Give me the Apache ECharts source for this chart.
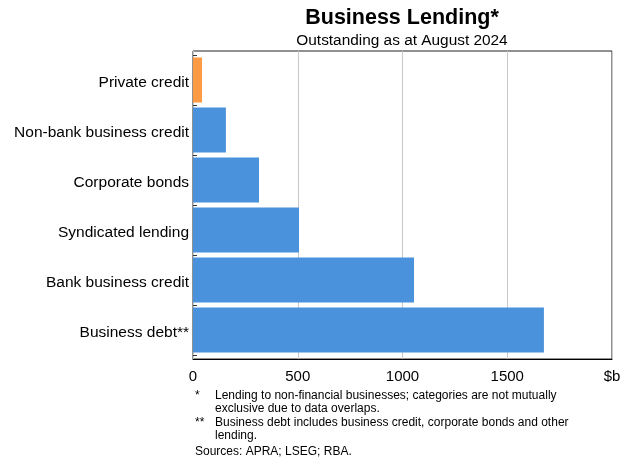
<!DOCTYPE html>
<html>
<head>
<meta charset="utf-8">
<script src="https://cdn.jsdelivr.net/npm/echarts@6/dist/echarts.min.js"></script>
<style>html,body{margin:0;padding:0;background:#fff;}#c{width:630px;height:457px;}</style>
</head>
<body>
<div id="c"></div>
<script>
const categories = ["Private credit", "Non-bank business credit", "Corporate bonds", "Syndicated lending", "Bank business credit", "Business debt**"];
const values = [43, 157, 315, 506, 1055, 1675];
const highlightCategory = "Private credit";
const xTicks = [0, 500, 1000, 1500, 2000];
const xUnitLabel = "$b";
const footnotes = [
  ["*", "Lending to non-financial businesses; categories are not mutually"],
  ["", "exclusive due to data overlaps."],
  ["**", "Business debt includes business credit, corporate bonds and other"],
  ["", "lending."]
];
const sources = "Sources: APRA; LSEG; RBA.";

const FONT = "Liberation Sans, Arial, sans-serif";
const chart = echarts.init(document.getElementById('c'), null, {renderer: 'canvas'});

const graphics = [
  {type: 'text', x: 402, y: 18.5, style: {text: 'Business Lending*', font: 'bold 21.5px ' + FONT, fill: '#000', textAlign: 'center', textVerticalAlign: 'middle'}},
  {type: 'text', x: 402, y: 41, style: {text: 'Outstanding as at August 2024', font: '15.4px ' + FONT, fill: '#000', textAlign: 'center', textVerticalAlign: 'middle'}}
];
const lineYs = [395.5, 408.5, 422.5, 435.5];
footnotes.forEach((f, i) => {
  if (f[0]) graphics.push({type: 'text', x: 195, y: lineYs[i], style: {text: f[0], font: '12px ' + FONT, fill: '#000', textVerticalAlign: 'middle'}});
  graphics.push({type: 'text', x: 215, y: lineYs[i], style: {text: f[1], font: '12px ' + FONT, fill: '#000', textVerticalAlign: 'middle'}});
});
graphics.push({type: 'text', x: 195, y: 451.5, style: {text: sources, font: '12px ' + FONT, fill: '#000', textVerticalAlign: 'middle'}});

chart.setOption({
  animation: false,
  grid: [
    {left: 193, right: 18, top: 51, bottom: 98, show: true, borderColor: '#222', borderWidth: 1, backgroundColor: 'transparent'},
    {left: 193, right: 18, top: 55, bottom: 102, show: false}
  ],
  xAxis: [{
    gridIndex: 0, type: 'value', min: 0, max: 2000, interval: 500,
    axisLine: {show: true, lineStyle: {color: '#000', width: 1}},
    axisTick: {show: false},
    splitLine: {show: true, lineStyle: {color: '#c8c8c8', width: 1}},
    axisLabel: {
      fontFamily: FONT, fontSize: 15, color: '#000', margin: 10,
      formatter: v => (v === xTicks[xTicks.length - 1] ? xUnitLabel : String(v))
    }
  }, {
    gridIndex: 1, type: 'value', min: 0, max: 2000, interval: 500, show: false
  }],
  yAxis: [{
    gridIndex: 0, type: 'value', min: 0, max: 1, show: false
  }, {
    gridIndex: 1, type: 'category', data: categories, inverse: true,
    axisLine: {show: false},
    axisTick: {show: true, inside: true, length: 4, lineStyle: {color: '#333'}},
    splitLine: {show: false},
    axisLabel: {
      margin: 4,
      formatter: v => '{l|' + v + '}',
      rich: {l: {fontFamily: FONT, fontSize: 15.5, color: '#000', padding: [5, 0, 0, 0]}}
    }
  }],
  series: [{
    type: 'bar',
    xAxisIndex: 1, yAxisIndex: 1,
    barCategoryGap: '10%',
    data: values.map((v, i) => ({
      value: v,
      itemStyle: {color: categories[i] === highlightCategory ? '#fd9a44' : '#4a92dc'}
    }))
  }],
  graphic: graphics
});
</script>
</body>
</html>
